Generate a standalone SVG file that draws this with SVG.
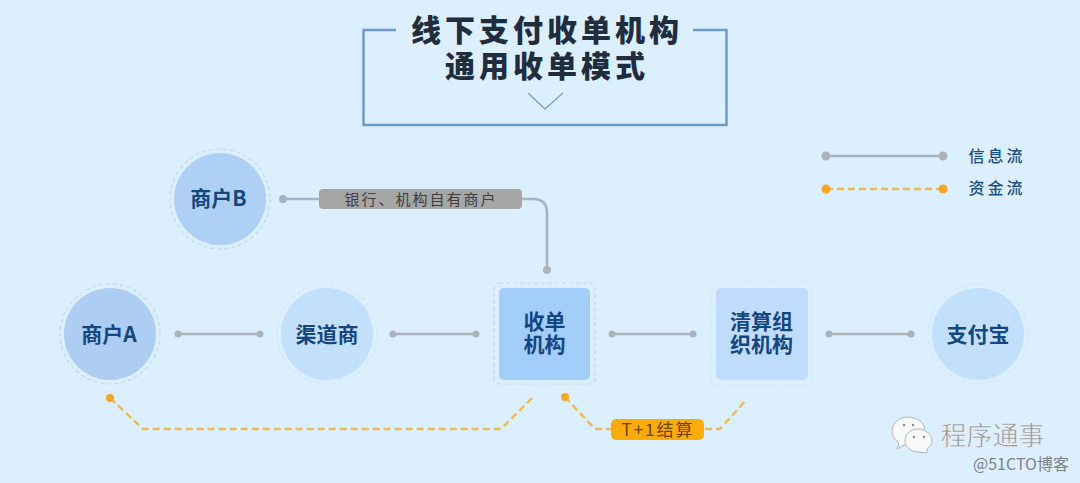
<svg xmlns="http://www.w3.org/2000/svg" width="1080" height="483" viewBox="0 0 1080 483">
<style>
text{font-family:"Noto Sans CJK SC","Liberation Sans",sans-serif;text-anchor:middle}
.t{font-size:30px;font-weight:900;fill:#1f2d3d;letter-spacing:4px}
.n{font-size:21px;font-weight:700;fill:#14477f}
.leg{font-size:16px;font-weight:500;fill:#1c4f82;letter-spacing:3px}
.ring{fill:none;stroke:#c3d9e6;stroke-width:1.200;stroke-dasharray:4 3}
.ring2{fill:none;stroke:#d3e6f1;stroke-width:1.200;stroke-dasharray:4 3}
.info{fill:none;stroke:#aab3ba;stroke-width:2.500}
.idot{fill:#aab3ba}
.fund{fill:none;stroke:#e9bd55;stroke-width:2.500;stroke-dasharray:7 4}
.fdot{fill:#f5a623}
</style>
<rect width="1080" height="483" fill="#dcefff"/>
<g id="title">
<path d="M396 30H363.500V125H726.500V30H693" fill="none" stroke="#6f9bcb" stroke-width="2.500"/>
<path d="M528 93L545 109L563 93" fill="none" stroke="#7fa6d2" stroke-width="1.500"/>
<text class="t" x="547" y="41">线下支付收单机构</text>
<text class="t" x="547" y="77">通用收单模式</text>
</g>
<g id="connectors">
<path class="info" d="M283 199H320M522 199H533Q547 199 547 213V270"/>
<circle class="idot" cx="283" cy="199" r="4"/><circle class="idot" cx="547" cy="270" r="4"/>
<path class="info" d="M178 334H260M393 334H476M612 334H693M829 334H911"/>
<circle class="idot" cx="178" cy="334" r="3.500"/><circle class="idot" cx="260" cy="334" r="3.500"/>
<circle class="idot" cx="393" cy="334" r="3.500"/><circle class="idot" cx="476" cy="334" r="3.500"/>
<circle class="idot" cx="612" cy="334" r="3.500"/><circle class="idot" cx="693" cy="334" r="3.500"/>
<circle class="idot" cx="829" cy="334" r="3.500"/><circle class="idot" cx="911" cy="334" r="3.500"/>
<path class="fund" d="M110 398L143 429H501L532 398"/>
<circle class="fdot" cx="110" cy="398" r="4"/>
<path class="fund" d="M565 397L595 429H720L747 399"/>
<circle class="fdot" cx="565" cy="397" r="4"/>
</g>
<g id="label-bank">
<rect x="319" y="189" width="203" height="20" rx="4" fill="#a6a6a6"/>
<text x="421" y="204.500" font-size="15" fill="#3f3f3f" letter-spacing="2">银行、机构自有商户</text>
</g>
<g id="label-t1">
<rect x="611" y="419" width="93" height="21" rx="5" fill="#fbab0c"/>
<text x="658" y="435.500" font-size="17" fill="#6b4300" letter-spacing="2">T+1结算</text>
</g>
<g id="node-merchant-b">
<circle class="ring" cx="220" cy="199" r="50"/>
<circle cx="220" cy="199" r="46" fill="#afd0f5"/>
<text class="n" x="218.500" y="206">商户B</text>
</g>
<g id="node-merchant-a">
<circle class="ring" cx="110" cy="334" r="50"/>
<circle cx="110" cy="334" r="46" fill="#aecdf2"/>
<text class="n" x="109" y="342">商户A</text>
</g>
<g id="node-channel">
<circle class="ring2" cx="327" cy="334" r="50"/>
<circle cx="327" cy="334" r="46" fill="#c2dffc"/>
<text class="n" x="327" y="342">渠道商</text>
</g>
<g id="node-acquirer">
<rect class="ring" x="494" y="283" width="101" height="101" rx="5"/>
<rect x="499" y="288" width="91" height="92" rx="5" fill="#a3cdfb"/>
<text class="n" x="544.500" y="329">收单</text>
<text class="n" x="544.500" y="352">机构</text>
</g>
<g id="node-clearing">
<rect class="ring2" x="711" y="282" width="101" height="103" rx="5"/>
<rect x="716" y="288" width="92" height="92" rx="5" fill="#bfdcfc"/>
<text class="n" x="761.500" y="329">清算组</text>
<text class="n" x="761.500" y="352">织机构</text>
</g>
<g id="node-alipay">
<circle class="ring2" cx="978" cy="334" r="50"/>
<circle cx="978" cy="334" r="46" fill="#c2dffc"/>
<text class="n" x="978" y="342">支付宝</text>
</g>
<g id="legend">
<path class="info" d="M826 156H943"/>
<circle class="idot" cx="826" cy="156" r="4.500"/><circle class="idot" cx="943" cy="156" r="4.500"/>
<path class="fund" d="M826 189H943"/>
<circle class="fdot" cx="826" cy="189" r="4.500"/><circle class="fdot" cx="943" cy="189" r="4.500"/>
<text class="leg" x="997" y="162">信息流</text>
<text class="leg" x="997" y="194">资金流</text>
</g>
<g id="watermark">
<path d="M908 417C898 417 892 424 892 431C892 436 895 440 899 443L897 449L904 445L912 445L925 428C922 421 916 417 908 417Z" fill="#f7f8f8" stroke="#aeb3b5"/>
<path d="M918 429C910 429 905 435 905 441C905 447 911 452 918 452L927 453L927 449C930 447 932 444 932 441C932 435 926 429 918 429Z" fill="#f7f8f8" stroke="#aeb3b5"/>
<circle cx="904" cy="425" r="1.200" fill="#888"/><circle cx="913" cy="425" r="1.200" fill="#888"/>
<circle cx="914" cy="437" r="1.200" fill="#888"/><circle cx="924" cy="437" r="1.200" fill="#888"/>
<text x="992.500" y="445" font-size="26" fill="#8f9597" stroke="#f5f7f7" stroke-width=".5">程序通事</text>
<text x="1021" y="470" font-size="16" fill="#7d8386">@51CTO博客</text>
</g>
</svg>
